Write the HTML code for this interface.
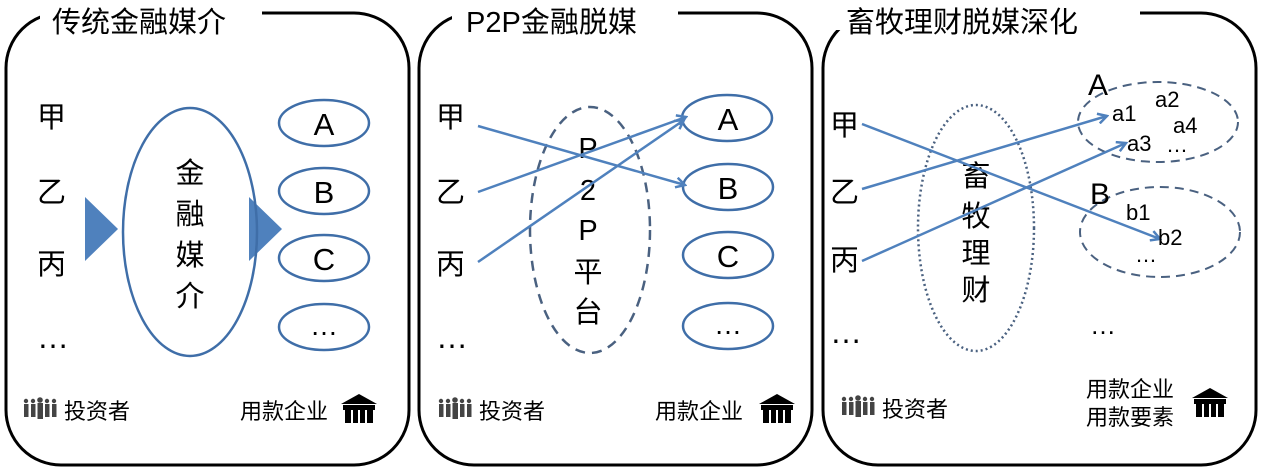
<!DOCTYPE html>
<html><head><meta charset="utf-8"><style>
html,body{margin:0;padding:0;background:#fff;}
svg{display:block;}
text{font-family:"Liberation Sans","Noto Sans CJK SC",sans-serif;fill:#000;}
</style></head><body>
<svg width="1264" height="471" viewBox="0 0 1264 471" xmlns="http://www.w3.org/2000/svg">
<defs>
<marker id="ar" markerWidth="12" markerHeight="12" refX="10" refY="6" orient="auto" markerUnits="userSpaceOnUse">
<path d="M1,1 L10,6 L1,11" fill="none" stroke="#4f81bd" stroke-width="2.5"/>
</marker>
<g id="ppl" fill="#444">
<circle cx="6" cy="3" r="2.2"/><rect x="4" y="6" width="4.5" height="13"/>
<circle cx="13" cy="3" r="2.2"/><rect x="11" y="6" width="4.5" height="13"/>
<circle cx="20" cy="2" r="2.8"/><rect x="17.5" y="5" width="5.5" height="16"/>
<circle cx="27" cy="3" r="2.2"/><rect x="25" y="6" width="4.5" height="13"/>
<circle cx="34" cy="3" r="2.2"/><rect x="32" y="6" width="4.5" height="13"/>
</g>
<g id="bank" fill="#000">
<path d="M0,10 L18,0 L36,10 Z"/><rect x="2" y="11" width="32" height="5"/>
<rect x="4" y="16" width="6" height="13"/><rect x="12" y="16" width="5" height="13"/><rect x="19" y="16" width="5" height="13"/><rect x="26" y="16" width="6" height="13"/>
</g>
</defs>
<g fill="none" stroke="#000" stroke-width="3">
<rect x="6" y="13" width="403" height="452" rx="55"/>
<rect x="419" y="13" width="393" height="452" rx="55"/>
<rect x="823" y="13" width="433" height="452" rx="55"/>
</g>
<rect x="40" y="0" width="222" height="30" fill="#fff"/>
<rect x="452" y="0" width="226" height="30" fill="#fff"/>
<rect x="835" y="0" width="305" height="30" fill="#fff"/>
<g font-size="29">
<text x="52" y="32">传统金融媒介</text>
<text x="466" y="32">P2P金融脱媒</text>
<text x="846" y="32">畜牧理财脱媒深化</text>
</g>
<g font-size="29">
<text x="37" y="127">甲</text><text x="37" y="202">乙</text><text x="37" y="274">丙</text><text x="37" y="348" font-size="32">…</text>
<text x="436" y="127">甲</text><text x="436" y="202">乙</text><text x="436" y="274">丙</text><text x="436" y="348" font-size="32">…</text>
<text x="830" y="135">甲</text><text x="830" y="202">乙</text><text x="830" y="270">丙</text><text x="830" y="343" font-size="32">…</text>
</g>
<path d="M85,197 L118,229 L85,261 Z" fill="#4f81bd"/>
<path d="M249,197 L282,229 L249,261 Z" fill="#4f81bd"/>
<g fill="none" stroke="#3f6ea8" stroke-width="2.5">
<ellipse cx="190" cy="232" rx="67" ry="124"/>
<ellipse cx="324" cy="123" rx="45" ry="23"/><ellipse cx="324" cy="191" rx="45" ry="23"/>
<ellipse cx="324" cy="258" rx="45" ry="23"/><ellipse cx="324" cy="327" rx="45" ry="23"/>
<ellipse cx="727" cy="118" rx="45" ry="23"/><ellipse cx="728" cy="187" rx="45" ry="23"/>
<ellipse cx="728" cy="255" rx="45" ry="23"/><ellipse cx="728" cy="326" rx="45" ry="23"/>
</g>
<g font-size="29" text-anchor="middle">
<text x="190" y="183">金</text><text x="190" y="224">融</text><text x="190" y="265">媒</text><text x="190" y="306">介</text>
<g font-size="31"><text x="324" y="135">A</text><text x="324" y="203">B</text><text x="324" y="270">C</text>
<text x="728" y="130">A</text><text x="728" y="199">B</text><text x="728" y="267">C</text></g>
<text x="324" y="335" font-size="28">…</text><text x="728" y="334" font-size="28">…</text>
<text x="588" y="158">P</text><text x="588" y="200">2</text><text x="588" y="240">P</text><text x="588" y="282">平</text><text x="588" y="322">台</text>
<text x="976" y="186">畜</text><text x="976" y="226">牧</text><text x="976" y="263">理</text><text x="976" y="300">财</text>
</g>
<ellipse cx="590" cy="230" rx="60" ry="123" fill="none" stroke="#4a6180" stroke-width="2.5" stroke-dasharray="10,7"/>
<ellipse cx="976" cy="228" rx="58" ry="123" fill="none" stroke="#4a6180" stroke-width="2.5" stroke-dasharray="2,3"/>
<ellipse cx="1158" cy="122" rx="80" ry="40" fill="none" stroke="#4a6180" stroke-width="2" stroke-dasharray="9,6"/>
<ellipse cx="1160" cy="232" rx="80" ry="45" fill="none" stroke="#4a6180" stroke-width="2" stroke-dasharray="9,6"/>
<g stroke="#4f81bd" stroke-width="2.5" fill="none" marker-end="url(#ar)">
<line x1="478" y1="126" x2="685" y2="185"/>
<line x1="478" y1="192" x2="686" y2="117"/>
<line x1="478" y1="262" x2="684" y2="120"/>
<line x1="862" y1="124" x2="1160" y2="239"/>
<line x1="862" y1="189" x2="1107" y2="116"/>
<line x1="862" y1="261" x2="1126" y2="143"/>
</g>
<text x="1088" y="95" font-size="30">A</text>
<text x="1090" y="204" font-size="30">B</text>
<g font-size="22">
<text x="1112" y="121">a1</text><text x="1155" y="107">a2</text><text x="1173" y="133">a4</text>
<text x="1127" y="151">a3</text><text x="1166" y="152">…</text>
<text x="1126" y="220">b1</text><text x="1158" y="245">b2</text><text x="1135" y="262">…</text>
<text x="1090" y="334" font-size="26">…</text>
</g>
<use href="#ppl" x="20" y="398"/><use href="#ppl" x="435" y="398"/><use href="#ppl" x="838" y="396"/>
<g font-size="22">
<text x="64" y="419">投资者</text><text x="479" y="419">投资者</text><text x="882" y="417">投资者</text>
<text x="240" y="419">用款企业</text><text x="655" y="419">用款企业</text>
<text x="1086" y="397">用款企业</text><text x="1086" y="425">用款要素</text>
</g>
<use href="#bank" x="341" y="394"/><use href="#bank" x="759" y="394"/><use href="#bank" x="1192" y="388"/>
</svg>
</body></html>
